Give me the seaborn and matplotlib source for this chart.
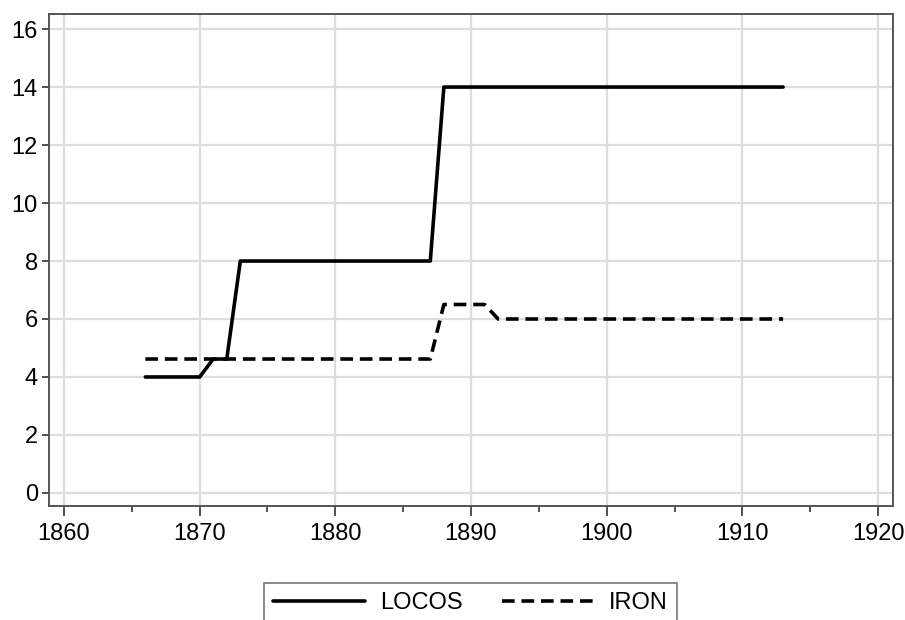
import matplotlib.pyplot as plt
import matplotlib.ticker as mticker
import pandas as pd
import seaborn as sns

# yearly series
years = list(range(1866, 1914))
locos = [4, 4, 4, 4, 4, 4.62, 4.62, 8, 8, 8, 8, 8, 8, 8, 8, 8, 8, 8, 8, 8, 8, 8,
         14, 14, 14, 14, 14, 14, 14, 14, 14, 14, 14, 14, 14, 14, 14, 14, 14, 14,
         14, 14, 14, 14, 14, 14, 14, 14]
iron = [4.62] * 22 + [6.5, 6.5, 6.5, 6.5] + [6.0] * 22

df = pd.DataFrame({'year': years, 'LOCOS': locos, 'IRON': iron})

sns.set_style('white')
plt.rcParams['font.family'] = ['Liberation Sans', 'DejaVu Sans']

fig = plt.figure(figsize=(9.05, 6.2), dpi=100)
ax = fig.add_axes([49 / 905, 1 - 506 / 620, (893 - 49) / 905, (506 - 14) / 620])

sns.lineplot(data=df, x='year', y='LOCOS', ax=ax, color='black',
             linewidth=2.6, label='LOCOS')
sns.lineplot(data=df, x='year', y='IRON', ax=ax, color='black',
             linewidth=2.6, linestyle=(0, (3.5, 1.9)), label='IRON')

ax.set_xlim(1858.9, 1921.1)
ax.set_ylim(-0.45, 16.52)
ax.xaxis.set_major_locator(mticker.MultipleLocator(10))
ax.xaxis.set_minor_locator(mticker.MultipleLocator(5))
ax.yaxis.set_major_locator(mticker.MultipleLocator(2))
ax.set_xlabel('')
ax.set_ylabel('')

ax.grid(True, which='major', color='#dddddd', linewidth=1.6)
ax.set_axisbelow(True)
for sp in ax.spines.values():
    sp.set_color('#555555')
    sp.set_linewidth(1.4)

ax.tick_params(axis='both', which='major', direction='out', length=5,
               width=1.2, color='#333333', labelsize=17, labelcolor='black',
               pad=3)
ax.tick_params(axis='x', which='major', length=7, pad=5, bottom=True)
ax.tick_params(axis='x', which='minor', direction='out', length=4,
               width=1.2, color='#333333', bottom=True)
ax.tick_params(axis='y', which='major', left=True)

leg = ax.legend(loc='upper center', bbox_to_anchor=(470.5 / 905, 1 - 583 / 620),
                bbox_transform=fig.transFigure, ncol=2, frameon=True,
                fancybox=False, fontsize=17, handlelength=3.9,
                columnspacing=1.65, handletextpad=0.64, borderpad=0.38,
                borderaxespad=0)
leg.get_frame().set_edgecolor('#555555')
leg.get_frame().set_linewidth(1.2)
for t in leg.get_texts():
    t.set_color('black')

plt.savefig('out.png', dpi=100)
